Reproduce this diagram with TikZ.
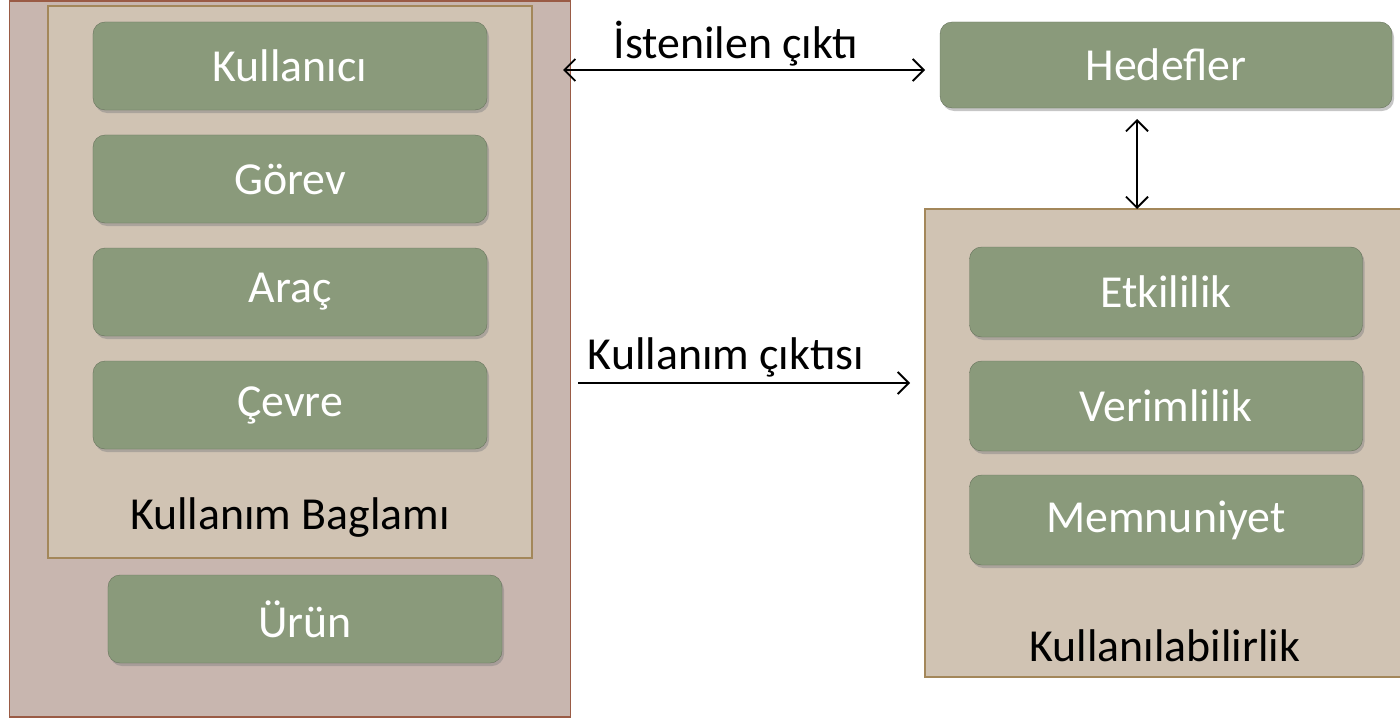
\documentclass[tikz,border=0pt]{standalone}
\usepackage{fontspec}
\setmainfont{Carlito}
\usetikzlibrary{arrows.meta,shadows}
\definecolor{boxgreen}{HTML}{8A9A7B}
\definecolor{outerfill}{HTML}{C8B6AF}
\definecolor{outerdraw}{HTML}{9A5B45}
\definecolor{innerfill}{HTML}{D0C3B3}
\definecolor{innerdraw}{HTML}{A3875A}
\tikzset{
  item/.style={draw=boxgreen!75!black,fill=boxgreen,rounded corners=12bp,
    minimum width=394bp,minimum height=88bp,text=white,
    font=\fontsize{46}{54}\selectfont,
    drop shadow={shadow xshift=2bp,shadow yshift=-3bp,opacity=0.45}},
  outerbox/.style={draw=outerdraw,fill=outerfill,line width=1.5bp},
  innerbox/.style={draw=innerdraw,fill=innerfill,line width=1.5bp},
  caption/.style={font=\fontsize{46}{54}\selectfont,text=black},
  link/.style={line width=1.8bp,{Straight Barb[length=11bp,width=22bp]}-{Straight Barb[length=11bp,width=22bp]}},
  linkto/.style={line width=1.8bp,-{Straight Barb[length=11bp,width=22bp]}},
}
\begin{document}
\begin{tikzpicture}[x=1bp,y=-1bp]
    \useasboundingbox (0,0) rectangle (1400,719);
    %% left side
    \node (sys) at (290,359) [outerbox,minimum width=561bp,minimum height=716bp] {};
    \node (ctx) at (290,282) [innerbox,minimum width=484bp,minimum height=552bp] {};
    \node (kul) at (290,66) [item] {Kullanıcı};
    \node (gor) at (290,179) [item] {Görev};
    \node (arac) at (290,292) [item] {Araç};
    \node (cevre) at (290,405) [item] {Çevre};
    \node (ctxlbl) at (290,518) [caption] {Kullanım Baglamı};
    \node (urun) at (305,619) [item] {Ürün};
    %% right side
    \node (hed) at (1166,65) [item,minimum width=452bp,minimum height=86bp] {Hedefler};
    \node (usab) at (1164,443) [innerbox,minimum width=478bp,minimum height=468bp] {};
    \node (etk) at (1166,292) [item,minimum width=393bp,minimum height=90bp] {Etkililik};
    \node (ver) at (1166,406) [item,minimum width=393bp,minimum height=90bp] {Verimlilik};
    \node (mem) at (1166,520) [item,minimum width=393bp,minimum height=90bp] {Memnuniyet};
    \node (usablbl) at (1165,646) [caption] {Kullanılabilirlik};
    %% connectors
    \coordinate (in1) at (563,70);
    \coordinate (in2) at (925,70);
    \coordinate (hd1) at (1137,119);
    \coordinate (hd2) at (1137,209);
    \coordinate (ko1) at (578,383);
    \coordinate (ko2) at (910,383);
    \draw [link] (in1) -- (in2) node [midway,above=0bp,xshift=-8bp,caption] {İstenilen çıktı};
    \draw [link] (hd1) -- (hd2);
    \draw [linkto] (ko1) -- (ko2) node [midway,above=2bp,xshift=-18bp,caption] {Kullanım çıktısı};
    %
\end{tikzpicture}
\end{document}
